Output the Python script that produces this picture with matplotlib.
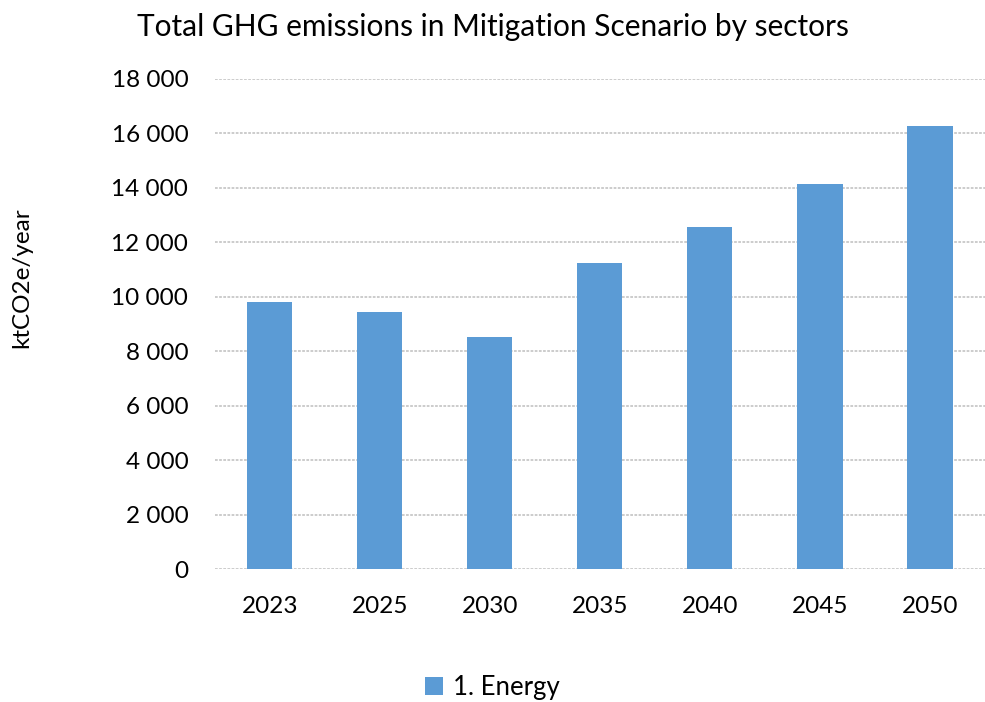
import matplotlib
matplotlib.use("Agg")
import matplotlib.pyplot as plt
from matplotlib.ticker import FuncFormatter

plt.rcParams['font.family'] = ['Lato', 'DejaVu Sans']

years = ['2023', '2025', '2030', '2035', '2040', '2045', '2050']
energy = [9820, 9440, 8545, 11240, 12550, 14155, 16285]

fig = plt.figure(figsize=(9.85, 7.02), dpi=100)
ax = fig.add_axes([0.218, 0.189, 0.782, 0.6985])

x = range(len(years))
ax.bar(x, energy, width=0.41, color='#5B9BD5', label='1. Energy', zorder=3)

ax.set_xlim(-0.5, len(years) - 0.5)
ax.set_ylim(0, 18000)
ax.set_yticks(range(0, 18001, 2000))
ax.yaxis.set_major_formatter(FuncFormatter(lambda v, p: f"{int(v):,}".replace(',', ' ')))
ax.set_xticks(list(x))
ax.set_xticklabels(years)
ax.tick_params(axis='both', length=0, labelsize=17.5, colors='#000000')
ax.tick_params(axis='y', pad=19)
ax.tick_params(axis='x', pad=19)

ax.grid(axis='y', color='#c8c8c8', linewidth=1.3, linestyle=(0, (1.5, 0.8)), zorder=0)
for s in ax.spines.values():
    s.set_visible(False)

fig.text(0.5, 0.962, 'Total GHG emissions in Mitigation Scenario by sectors',
         ha='center', va='center', fontsize=21.5)
fig.text(0.022, 0.604, 'ktCO2e/year', rotation=90, ha='center', va='center', fontsize=17.5)

fig.legend(loc='center', bbox_to_anchor=(0.5, 0.02), frameon=False, fontsize=18.5,
           handlelength=0.7, handleheight=0.7, handletextpad=0.4)

fig.savefig('out.png', dpi=100)
